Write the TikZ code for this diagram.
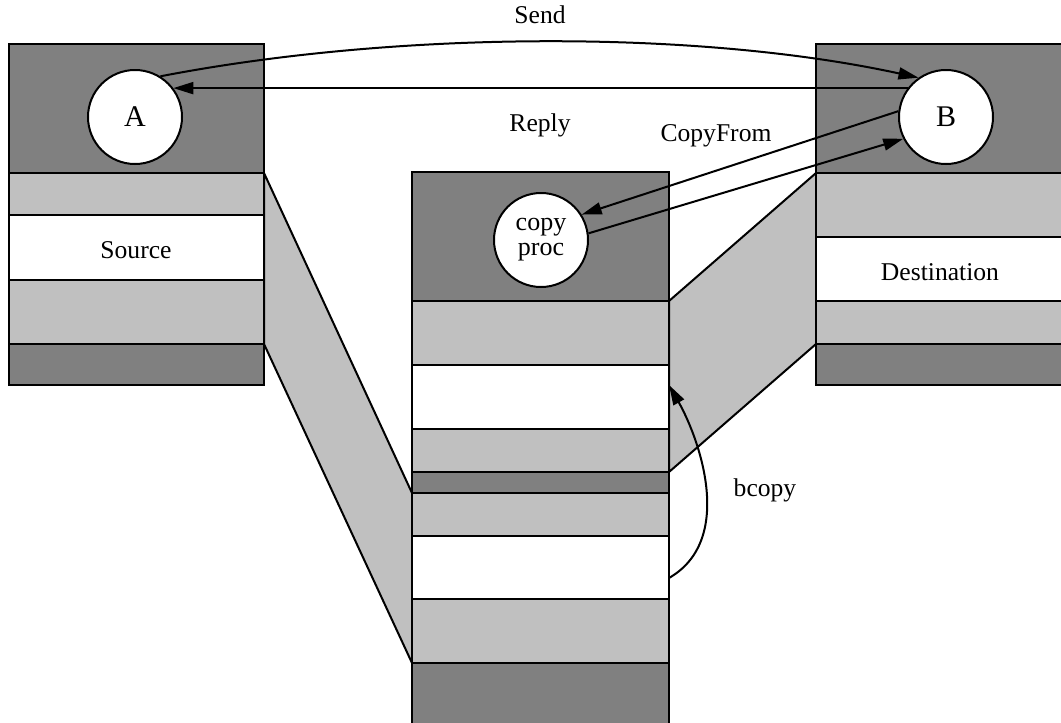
\documentclass[tikz,border=0pt]{standalone}
\usepackage{fontspec}
\setmainfont{Liberation Serif}
\usetikzlibrary{arrows.meta}
\definecolor{dkgray}{HTML}{808080}
\definecolor{ltgray}{HTML}{C0C0C0}
\begin{document}
\begin{tikzpicture}[
  x=0.5pt, y=-0.5pt,
  line width=1pt,
  dk/.style={draw, fill=dkgray},
  lt/.style={draw, fill=ltgray},
  wt/.style={draw, fill=white},
  proc/.style={draw, fill=white, circle, minimum size=47pt, inner sep=0pt, align=center, font=\fontsize{15}{13}\selectfont},
  lbl/.style={font=\fontsize{12.8}{14}\selectfont},
  arr/.style={-{Triangle[length=10pt,width=6pt]}}
]
\useasboundingbox (0,0) rectangle (1061,723);
\clip (0,0) rectangle (1061,723);

\draw[lt] (264,173) -- (412,493) -- (412,663) -- (264,344) -- cycle;
\draw[lt] (669,301) -- (816,173) -- (816,344) -- (669,472) -- cycle;

\draw[dk] (9,44) rectangle (264,173);
\draw[lt] (9,173) rectangle (264,215);
\draw[wt] (9,215) rectangle (264,280);
\draw[lt] (9,280) rectangle (264,344);
\draw[dk] (9,344) rectangle (264,385);

\draw[dk] (412,172) rectangle (669,301);
\draw[lt] (412,301) rectangle (669,365);
\draw[wt] (412,365) rectangle (669,429);
\draw[lt] (412,429) rectangle (669,472);
\draw[dk] (412,472) rectangle (669,493);
\draw[lt] (412,493) rectangle (669,536);
\draw[wt] (412,536) rectangle (669,599);
\draw[lt] (412,599) rectangle (669,663);
\draw[dk] (412,663) rectangle (669,730);

\draw[dk] (816,44) rectangle (1070,173);
\draw[lt] (816,173) rectangle (1070,237);
\draw[wt] (816,237) rectangle (1070,301);
\draw[lt] (816,301) rectangle (1070,344);
\draw[dk] (816,344) rectangle (1070,385);

\node[lbl] (src) at (136,250) {Source};
\node[lbl] (dst) at (940,272) {Destination};

\node[proc] (a) at (135,117) {A};
\node[proc] (b) at (946,117) {B};
\node[proc, font=\fontsize{13}{12.5}\selectfont] (cp) at (541,240) {copy\\proc};

\coordinate (bs) at (669,578);
\coordinate (be) at (669,385);

\draw[arr] (a.58) .. controls (400,30) and (700,30) .. (b.125);
\draw[arr] (b.143) -- (a.37);
\draw[arr] (b.173) -- (cp.32);
\draw[arr] (cp.8) -- (b.207);
\draw[arr] (bs) .. controls (735,540) and (700,440) .. (be);

\node[lbl] (send) at (540,15) {Send};
\node[lbl] (reply) at (540,125) {Reply};
\node[lbl] (cf) at (716,136) {CopyFrom};
\node[lbl] (bc) at (765,490) {bcopy};
\end{tikzpicture}
\end{document}
